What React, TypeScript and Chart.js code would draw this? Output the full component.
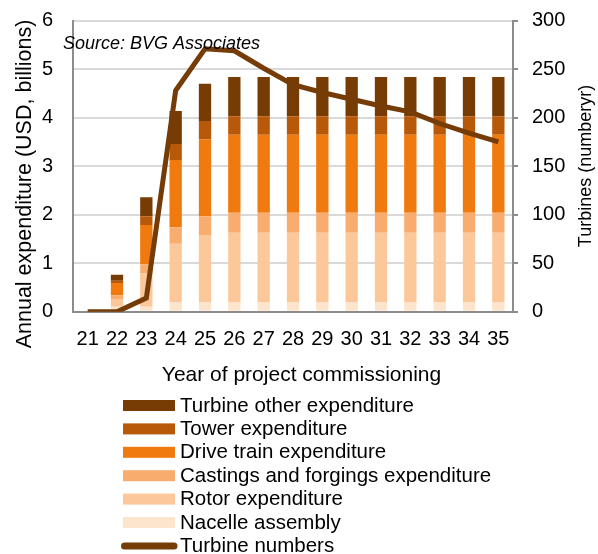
import React, { useEffect, useRef } from "react";
import { Chart, registerables } from "chart.js";

Chart.register(...registerables);

const years = ["21", "22", "23", "24", "25", "26", "27", "28", "29", "30", "31", "32", "33", "34", "35"];

const nacelleAssembly = [0, 0.1, 0.1, 0.19, 0.19, 0.19, 0.19, 0.19, 0.19, 0.19, 0.19, 0.19, 0.19, 0.19, 0.19];
const rotorExp = [0, 0.16, 0.69, 1.21, 1.39, 1.44, 1.44, 1.44, 1.44, 1.44, 1.44, 1.44, 1.44, 1.44, 1.44];
const castingsExp = [0, 0.08, 0.19, 0.34, 0.39, 0.41, 0.41, 0.41, 0.41, 0.41, 0.41, 0.41, 0.41, 0.41, 0.41];
const driveTrainExp = [0, 0.25, 0.81, 1.39, 1.58, 1.61, 1.61, 1.61, 1.61, 1.61, 1.61, 1.61, 1.61, 1.61, 1.61];
const towerExp = [0, 0.05, 0.18, 0.33, 0.38, 0.38, 0.38, 0.38, 0.38, 0.38, 0.38, 0.38, 0.38, 0.38, 0.38];
const turbineOtherExp = [0, 0.12, 0.39, 0.68, 0.77, 0.81, 0.81, 0.81, 0.81, 0.81, 0.81, 0.81, 0.81, 0.81, 0.81];
const turbineNumbers = [0, 0, 14, 228, 271, 269, 251, 234, 226, 219, 212, 206, 194, 184, 175];

const leftTicks = [0, 1, 2, 3, 4, 5, 6];
const rightTicks = [0, 50, 100, 150, 200, 250, 300];

const SOURCE_TEXT = "Source: BVG Associates";
const Y_TITLE = "Annual expenditure (USD, billions)";
const Y1_TITLE = "Turbines (numberyr)";
const X_TITLE = "Year of project commissioning";

const FONT = '"Liberation Sans", Arial, Helvetica, sans-serif';
const W = 598;
const H = 554;
const PLOT_LEFT = 73;
const PLOT_RIGHT = 513;
const PLOT_TOP = 20.7;
const PLOT_BOTTOM = 311.7;

const overlayPlugin = {
  id: "overlay",
  afterDraw(chart: any) {
    const ctx = chart.ctx as CanvasRenderingContext2D;
    ctx.save();
    ctx.fillStyle = "#000";

    // source note
    ctx.font = `italic 18px ${FONT}`;
    ctx.textAlign = "left";
    ctx.textBaseline = "alphabetic";
    ctx.fillText(SOURCE_TEXT, 63, 48.5);

    // left axis title
    ctx.save();
    ctx.translate(25, 184);
    ctx.rotate(-Math.PI / 2);
    ctx.font = `21.5px ${FONT}`;
    ctx.textAlign = "center";
    ctx.textBaseline = "middle";
    ctx.fillText(Y_TITLE, 0, 0);
    ctx.restore();

    // right axis title
    ctx.save();
    ctx.translate(586.5, 166);
    ctx.rotate(-Math.PI / 2);
    ctx.font = `18px ${FONT}`;
    ctx.textAlign = "center";
    ctx.textBaseline = "middle";
    ctx.fillText(Y1_TITLE, 0, 0);
    ctx.restore();

    // x axis title
    ctx.font = `21px ${FONT}`;
    ctx.textAlign = "center";
    ctx.textBaseline = "alphabetic";
    ctx.fillText(X_TITLE, 301.5, 381);

    // legend
    const order = [5, 4, 3, 2, 1, 0, 6];
    const rowY0 = 405.5;
    const rowStep = 23.4;
    ctx.font = `20.5px ${FONT}`;
    ctx.textAlign = "left";
    ctx.textBaseline = "alphabetic";
    order.forEach((di, i) => {
      const ds = chart.data.datasets[di];
      const cy = rowY0 + i * rowStep;
      if (ds.type === "line") {
        ctx.strokeStyle = ds.borderColor;
        ctx.lineWidth = 7;
        ctx.lineCap = "round";
        ctx.beginPath();
        ctx.moveTo(124.5, cy);
        ctx.lineTo(174, cy);
        ctx.stroke();
      } else {
        ctx.fillStyle = ds.backgroundColor;
        ctx.fillRect(123, cy - 5.5, 52, 11);
      }
      ctx.fillStyle = "#000";
      ctx.fillText(ds.label, 180, cy + 6);
    });
    ctx.restore();
  },
};

export default function App() {
  const canvasRef = useRef<HTMLCanvasElement | null>(null);

  useEffect(() => {
    if (!canvasRef.current) return;
    const tickFont = { family: FONT, size: 20 };
    const vTickFont = { family: FONT, size: 20, lineHeight: 0.5 };
    const barCommon = {
      type: "bar" as const,
      yAxisID: "y",
      borderWidth: 0,
      barPercentage: 0.42,
      categoryPercentage: 1,
      order: 1,
    };
    const chart = new Chart(canvasRef.current, {
      type: "bar",
      data: {
        labels: years,
        datasets: [
          { ...barCommon, label: "Nacelle assembly", data: nacelleAssembly, backgroundColor: "#fde4cc" },
          { ...barCommon, label: "Rotor expenditure", data: rotorExp, backgroundColor: "#fcc89a" },
          { ...barCommon, label: "Castings and forgings expenditure", data: castingsExp, backgroundColor: "#f8ad6e" },
          { ...barCommon, label: "Drive train expenditure", data: driveTrainExp, backgroundColor: "#f07a0e" },
          { ...barCommon, label: "Tower expenditure", data: towerExp, backgroundColor: "#b8590a" },
          { ...barCommon, label: "Turbine other expenditure", data: turbineOtherExp, backgroundColor: "#773c04" },
          {
            type: "line" as const,
            label: "Turbine numbers",
            data: turbineNumbers,
            yAxisID: "y1",
            borderColor: "#763c08",
            borderWidth: 5,
            pointRadius: 0,
            tension: 0,
            fill: false,
            order: 0,
          } as any,
        ],
      },
      options: {
        animation: false,
        responsive: false,
        devicePixelRatio: 1,
        layout: { padding: { top: PLOT_TOP, left: 0, right: 0, bottom: 0 } },
        plugins: {
          legend: { display: false },
          tooltip: { enabled: false },
        },
        scales: {
          x: {
            stacked: true,
            grid: { display: false },
            border: { display: true, color: "#8c8c8c", width: 2 },
            ticks: { font: tickFont, color: "#000", padding: 8, maxRotation: 0, autoSkip: false },
            afterFit: (s: any) => {
              s.height = H - PLOT_BOTTOM;
            },
          },
          y: {
            stacked: true,
            position: "left",
            min: 0,
            max: 6,
            afterBuildTicks: (s: any) => {
              s.ticks = leftTicks.map((v) => ({ value: v }));
            },
            ticks: { font: vTickFont, color: "#000", padding: 5 },
            grid: { color: "#d9d9d9", lineWidth: 2, drawTicks: true, tickLength: 15, tickColor: "rgba(0,0,0,0)" },
            border: { display: true, color: "#8c8c8c", width: 2 },
            afterFit: (s: any) => {
              s.width = PLOT_LEFT;
            },
          },
          y1: {
            position: "right",
            min: 0,
            max: 300,
            afterBuildTicks: (s: any) => {
              s.ticks = rightTicks.map((v) => ({ value: v }));
            },
            ticks: { font: vTickFont, color: "#000", padding: 14 },
            grid: { drawOnChartArea: false, drawTicks: true, tickLength: 5, color: "#8c8c8c", lineWidth: 2 },
            border: { display: true, color: "#8c8c8c", width: 2 },
            afterFit: (s: any) => {
              s.width = W - PLOT_RIGHT;
            },
          },
        },
      },
      plugins: [overlayPlugin],
    } as any);
    return () => chart.destroy();
  }, []);

  return (
    <div style={{ position: "absolute", left: 0, top: 0, width: W, height: H, background: "#fff" }}>
      <canvas ref={canvasRef} width={W} height={H} style={{ display: "block" }} />
    </div>
  );
}
